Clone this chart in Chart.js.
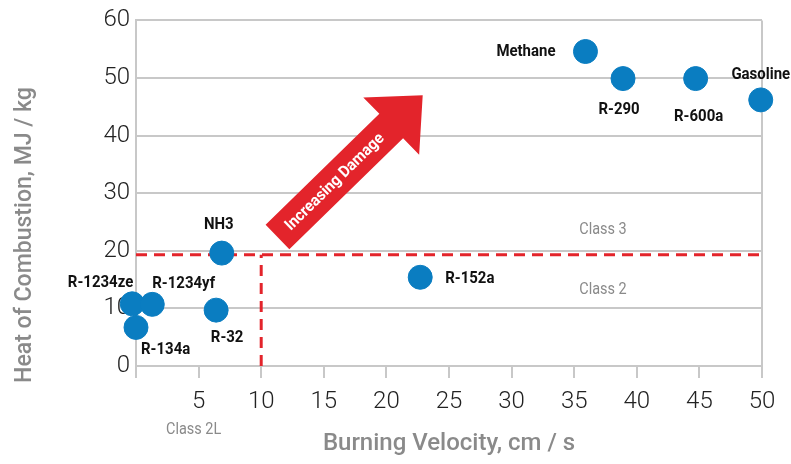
<!DOCTYPE html>
<html>
<head>
<meta charset="utf-8">
<script src="https://cdn.jsdelivr.net/npm/chart.js@4.4.0/dist/chart.umd.min.js"></script>
<style>
  html, body { margin: 0; padding: 0; background: #fff; }
</style>
</head>
<body>
<canvas id="chart" width="791" height="464"></canvas>
<script>
// Data
const refrigerants = ['R-1234ze', 'R-134a', 'R-1234yf', 'R-32', 'NH3', 'R-152a', 'Methane', 'R-290', 'R-600a', 'Gasoline'];
const burningVelocity = [-0.3, 0, 1.3, 6.4, 6.85, 22.7, 35.9, 38.9, 44.7, 49.9];
const heatOfCombustion = [10.8, 6.7, 10.7, 9.7, 19.6, 15.4, 54.6, 49.9, 49.9, 46.2];

const classBoundaryHeat = 19.3;
const classBoundaryVelocity = 10;
const classLabels = ['Class 3', 'Class 2', 'Class 2L'];
const arrowText = 'Increasing Damage';
const arrowFrom = { x: 11.3, y: 22.4 };
const arrowTo = { x: 22.9, y: 47.0 };
const yTitle = 'Heat of Combustion, MJ / kg';
const xTitle = 'Burning Velocity, cm / s';

// Label placement per point: [dx, dy, align]
const labelPlacement = [
    [1, -21, 'right'],
    [5, 22, 'left'],
    [0, -21, 'left'],
    [11, 28, 'center'],
    [-3, -28, 'center'],
    [25, 1, 'left'],
    [-30, 0, 'right'],
    [-4, 31, 'center'],
    [3, 38, 'center'],
    [0, -25, 'center']
];

const FONT = "Roboto, 'DejaVu Sans Condensed', sans-serif";
const GRID = '#c8c8c8';
const RED = '#e3242b';
const BLUE = '#0a7dc1';
const GREY_TEXT = '#8a8a8a';

// draw text squeezed horizontally (the reference uses a condensed face)
function narrowText(ctx, text, px, py, align, squeeze) {
    ctx.save();
    ctx.translate(px, py);
    ctx.scale(squeeze, 1);
    ctx.textAlign = align;
    ctx.fillText(text, 0, 0);
    ctx.restore();
}

const annotations = {
    id: 'annotations',
    beforeDatasetsDraw(chart) {
        const { ctx, scales: { x, y } } = chart;
        ctx.save();
        ctx.textBaseline = 'middle';

        // Y axis title, sits lower than the plot centre in the reference
        ctx.save();
        ctx.fillStyle = GREY_TEXT;
        ctx.font = `500 24px ${FONT}`;
        ctx.translate(25, 235);
        ctx.rotate(-Math.PI / 2);
        narrowText(ctx, yTitle, 0, 0, 'center', 0.96);
        ctx.restore();

        // Class labels
        ctx.fillStyle = GREY_TEXT;
        ctx.font = `17px ${FONT}`;
        narrowText(ctx, classLabels[0], x.getPixelForValue(37.3), y.getPixelForValue(23.7), 'center', 0.85);
        narrowText(ctx, classLabels[1], x.getPixelForValue(37.3), y.getPixelForValue(13.2), 'center', 0.85);
        narrowText(ctx, classLabels[2], x.getPixelForValue(4.6), chart.chartArea.bottom + 64, 'center', 0.85);

        // Increasing damage arrow
        const x0 = x.getPixelForValue(arrowFrom.x), y0 = y.getPixelForValue(arrowFrom.y);
        const x1 = x.getPixelForValue(arrowTo.x), y1 = y.getPixelForValue(arrowTo.y);
        const len = Math.hypot(x1 - x0, y1 - y0);
        const headLen = 44, shaftHalf = 17, headHalf = 40;
        ctx.translate(x0, y0);
        ctx.rotate(Math.atan2(y1 - y0, x1 - x0));
        ctx.fillStyle = RED;
        ctx.beginPath();
        ctx.moveTo(0, -shaftHalf);
        ctx.lineTo(len - headLen, -shaftHalf);
        ctx.lineTo(len - headLen, -headHalf);
        ctx.lineTo(len, 0);
        ctx.lineTo(len - headLen, headHalf);
        ctx.lineTo(len - headLen, shaftHalf);
        ctx.lineTo(0, shaftHalf);
        ctx.closePath();
        ctx.fill();
        ctx.fillStyle = '#fff';
        ctx.font = `bold 16px ${FONT}`;
        narrowText(ctx, arrowText, (len - headLen) / 2, 1, 'center', 0.95);
        ctx.restore();
    },
    afterDatasetsDraw(chart) {
        const { ctx } = chart;
        const meta = chart.getDatasetMeta(0);
        ctx.save();
        ctx.fillStyle = '#111';
        ctx.font = `bold 17px ${FONT}`;
        ctx.textBaseline = 'middle';
        meta.data.forEach((pt, i) => {
            const [dx, dy, align] = labelPlacement[i];
            narrowText(ctx, refrigerants[i], pt.x + dx, pt.y + dy, align, 0.88);
        });
        ctx.restore();
    }
};

new Chart(document.getElementById('chart'), {
    type: 'scatter',
    data: {
        datasets: [
            {
                label: 'Refrigerants',
                data: burningVelocity.map((v, i) => ({ x: v, y: heatOfCombustion[i] })),
                backgroundColor: BLUE,
                borderColor: BLUE,
                pointRadius: 12,
                pointHoverRadius: 12,
                clip: false,
                order: 0
            },
            {
                type: 'line',
                label: 'Class 3 boundary',
                data: [{ x: 0, y: classBoundaryHeat }, { x: 50, y: classBoundaryHeat }],
                borderColor: RED,
                borderWidth: 3,
                borderDash: [11, 7],
                pointRadius: 0,
                clip: false,
                order: 1
            },
            {
                type: 'line',
                label: 'Class 2L boundary',
                data: [{ x: classBoundaryVelocity, y: 0 }, { x: classBoundaryVelocity, y: classBoundaryHeat }],
                borderColor: RED,
                borderWidth: 3,
                borderDash: [11, 7],
                pointRadius: 0,
                order: 1
            }
        ]
    },
    options: {
        responsive: false,
        animation: false,
        layout: { padding: { top: 17, right: 29, left: 0, bottom: 0 } },
        plugins: {
            legend: { display: false },
            tooltip: { enabled: false }
        },
        scales: {
            x: {
                type: 'linear',
                min: 0,
                max: 50,
                afterFit: s => { s.height = 98; },
                border: { color: GRID, width: 2 },
                grid: {
                    color: c => (c.tick && c.tick.value === 50 ? GRID : 'transparent'),
                    tickColor: GRID,
                    lineWidth: 2,
                    tickLength: 12
                },
                ticks: {
                    stepSize: 5,
                    padding: 10,
                    color: '#222',
                    font: { family: FONT, size: 24, weight: 300 },
                    callback: v => (v === 0 ? '' : v)
                },
                title: {
                    display: true,
                    text: xTitle,
                    color: GREY_TEXT,
                    font: { family: FONT, size: 24, weight: 500 },
                    padding: { top: 0, bottom: 6 }
                }
            },
            y: {
                min: 0,
                max: 60,
                afterFit: s => { s.width = 136; },
                border: { color: GRID, width: 2 },
                grid: {
                    color: GRID,
                    lineWidth: 2,
                    drawTicks: false
                },
                ticks: {
                    stepSize: 10,
                    padding: 6,
                    color: '#222',
                    font: { family: FONT, size: 24, weight: 300 }
                },
                title: { display: false }
            }
        }
    },
    plugins: [annotations]
});
</script>
</body>
</html>
